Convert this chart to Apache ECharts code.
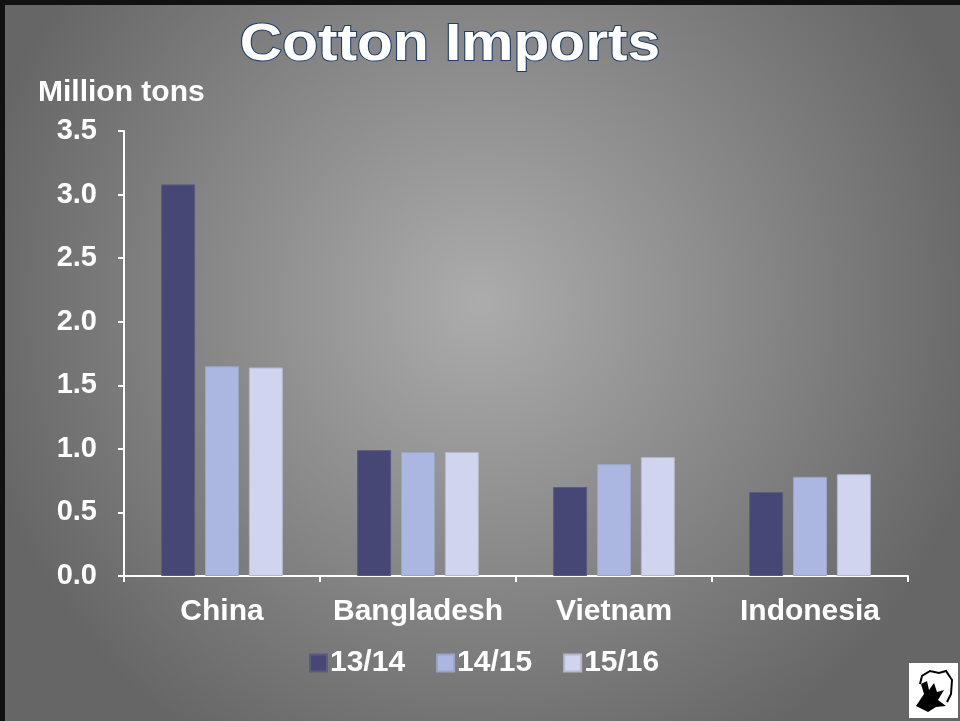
<!DOCTYPE html>
<html>
<head>
<meta charset="utf-8">
<script src="https://cdn.jsdelivr.net/npm/echarts@6/dist/echarts.min.js"></script>
<style>
html,body{margin:0;padding:0;background:#000;}
#c{width:960px;height:721px;}
</style>
</head>
<body>
<div id="c"></div>
<script>
const categories = ['China', 'Bangladesh', 'Vietnam', 'Indonesia'];
const seriesNames = ['13/14', '14/15', '15/16'];
const v1314 = [3.08, 0.99, 0.70, 0.66];
const v1415 = [1.65, 0.975, 0.88, 0.78];
const v1516 = [1.64, 0.975, 0.935, 0.80];
const yTicks = [0, 0.5, 1.0, 1.5, 2.0, 2.5, 3.0, 3.5];

const colors = ['#464775', '#abb7e0', '#d0d4ee'];
const borders = ['#5a5b80', '#9aa4c4', '#b4b8cc'];
const font = 'Liberation Sans, Arial, sans-serif';

const chart = echarts.init(document.getElementById('c'));
const mk = (name, data, i) => ({
  name, type: 'bar', data,
  barWidth: 34, barGap: '29%',
  itemStyle: { color: colors[i], borderColor: borders[i], borderWidth: 1 },
  emphasis: { disabled: true }
});
chart.setOption({
  animation: false,
  backgroundColor: {
    type: 'radial', x: 0.5, y: 0.42, r: 0.72,
    colorStops: [
      { offset: 0, color: '#acacac' },
      { offset: 1, color: '#666666' }
    ]
  },
  legend: {
    data: seriesNames, left: 304, top: 643, itemWidth: 17, itemHeight: 17, itemGap: 31,
    icon: 'rect',
    textStyle: { fontFamily: font, fontSize: 30, fontWeight: 'bold', color: '#ffffff', padding: [0, 0, 0, -2] }
  },
  grid: { left: 124, right: 52, top: 131, bottom: 145, containLabel: false },
  xAxis: {
    type: 'category', data: categories,
    axisLine: { lineStyle: { color: '#ffffff', width: 2 } },
    axisTick: { show: true, interval: 0, length: 6, alignWithLabel: false, lineStyle: { color: '#ffffff', width: 2 } },
    axisLabel: { interval: 0, fontFamily: font, fontSize: 30, fontWeight: 'bold', color: '#ffffff', margin: 21 }
  },
  yAxis: {
    type: 'value', min: 0, max: 3.5, interval: 0.5,
    name: 'Million tons', nameLocation: 'end', nameGap: 23,
    nameTextStyle: { fontFamily: font, fontSize: 30, fontWeight: 'bold', color: '#ffffff', align: 'left', padding: [0, 0, 0, -86] },
    axisLine: { show: true, lineStyle: { color: '#ffffff', width: 2 } },
    axisTick: { show: true, length: 6, lineStyle: { color: '#ffffff', width: 2 } },
    splitLine: { show: false },
    axisLabel: { fontFamily: font, fontSize: 29, fontWeight: 'bold', color: '#ffffff', margin: 27,
      formatter: v => v.toFixed(1) }
  },
  series: [mk(seriesNames[0], v1314, 0), mk(seriesNames[1], v1415, 1), mk(seriesNames[2], v1516, 2)],
  graphic: [
    { type: 'text', x: 450, y: 46, scaleX: 1.15, scaleY: 1,
      style: { text: 'Cotton Imports', fontFamily: font, fontSize: 51, fontWeight: 'bold', fill: '#ffffff',
        stroke: '#1f3c6c', lineWidth: 2, align: 'center', verticalAlign: 'middle' } },
    { type: 'rect', left: 0, top: 0, shape: { width: 960, height: 721 },
      style: { fill: 'none', stroke: '#111', lineWidth: 5 }, silent: true },
    { type: 'rect', shape: { x: 909, y: 663, width: 49, height: 55 }, style: { fill: '#ffffff' } },
    { type: 'polygon', shape: { points: [[916,706],[924,694],[921,684],[927,681],[929,690],[934,683],[937,692],[944,690],[938,700],[946,706],[936,707],[928,712],[922,709]] },
      style: { fill: '#000000' } },
    { type: 'polyline', shape: { points: [[920,684],[922,676],[930,671],[939,673],[946,671],[952,680],[951,694],[947,702]] },
      style: { stroke: '#000000', lineWidth: 2, fill: 'none' } }
  ]
});
</script>
</body>
</html>
